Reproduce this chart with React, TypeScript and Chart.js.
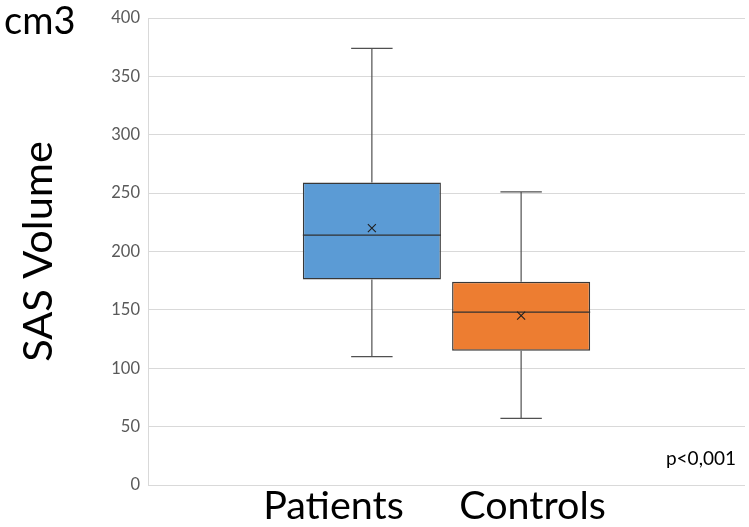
import React, { useEffect, useRef } from "react";
import { Chart, registerables } from "chart.js";

Chart.register(...registerables);

const groups = ["Patients", "Controls"];
const whiskerMin = [110, 57];
const q1 = [176, 115];
const median = [214, 148];
const q3 = [259, 174];
const whiskerMax = [374, 251];
const mean = [220, 145];
const fillColors = ["#5B9BD5", "#ED7D31"];
const yTicks = [0, 50, 100, 150, 200, 250, 300, 350, 400];

const FONT = "Lato, 'Open Sans', sans-serif";

const boxPlugin = {
  id: "boxExtras",
  afterDatasetsDraw(chart: any) {
    const ctx = chart.ctx;
    const y = chart.scales.y;
    const meta = chart.getDatasetMeta(0);
    ctx.save();
    groups.forEach((_, i) => {
      const bar = meta.data[i + 1];
      if (!bar) return;
      const cx = bar.x;
      const w = bar.width;
      const capHalf = w * 0.15;
      ctx.strokeStyle = "#505050";
      ctx.lineWidth = 1.2;
      ctx.beginPath();
      ctx.moveTo(cx, y.getPixelForValue(q3[i]));
      ctx.lineTo(cx, y.getPixelForValue(whiskerMax[i]));
      ctx.moveTo(cx - capHalf, y.getPixelForValue(whiskerMax[i]));
      ctx.lineTo(cx + capHalf, y.getPixelForValue(whiskerMax[i]));
      ctx.moveTo(cx, y.getPixelForValue(q1[i]));
      ctx.lineTo(cx, y.getPixelForValue(whiskerMin[i]));
      ctx.moveTo(cx - capHalf, y.getPixelForValue(whiskerMin[i]));
      ctx.lineTo(cx + capHalf, y.getPixelForValue(whiskerMin[i]));
      ctx.stroke();
      ctx.strokeStyle = "#303030";
      ctx.lineWidth = 1.3;
      ctx.beginPath();
      ctx.moveTo(cx - w / 2, y.getPixelForValue(median[i]));
      ctx.lineTo(cx + w / 2, y.getPixelForValue(median[i]));
      ctx.stroke();
      const my = y.getPixelForValue(mean[i]);
      const s = 4;
      ctx.strokeStyle = "#202020";
      ctx.lineWidth = 1.1;
      ctx.beginPath();
      ctx.moveTo(cx - s, my - s);
      ctx.lineTo(cx + s, my + s);
      ctx.moveTo(cx + s, my - s);
      ctx.lineTo(cx - s, my + s);
      ctx.stroke();
    });
    const area = chart.chartArea;
    ctx.fillStyle = "#000";
    ctx.textBaseline = "alphabetic";
    ctx.font = `38px ${FONT}`;
    ctx.textAlign = "left";
    ctx.fillText("cm3", 4, 34);
    ctx.font = `19px ${FONT}`;
    ctx.textAlign = "right";
    ctx.fillText("p<0,001", area.right - 9, y.getPixelForValue(17));
    ctx.restore();
  },
};

export default function App() {
  const ref = useRef<HTMLCanvasElement>(null);
  useEffect(() => {
    document.body.style.margin = "0";
    if (!ref.current) return;
    const chart = new Chart(ref.current, {
      type: "bar",
      data: {
        labels: ["", ...groups, ""],
        datasets: [
          {
            data: [null, ...groups.map((_, i) => [q1[i], q3[i]]), null] as any,
            backgroundColor: ["transparent", ...fillColors, "transparent"],
            borderColor: "#383838",
            borderWidth: 1.4,
            borderSkipped: false,
            categoryPercentage: 1,
            barPercentage: 0.925,
            xAxisID: "x",
          },
        ],
      },
      options: {
        animation: false,
        responsive: false,
        layout: { padding: { top: 18, right: 4, left: 0, bottom: 0 } },
        plugins: { legend: { display: false }, tooltip: { enabled: false } },
        scales: {
          x: { display: false },
          x2: {
            type: "category",
            labels: ["", ...groups],
            position: "bottom",
            grid: { display: false },
            border: { display: false },
            ticks: {
              labelOffset: -113,
              color: "#000",
              font: { family: FONT, size: 39.5, lineHeight: 1.0 },
              padding: -6,
              maxRotation: 0,
              autoSkip: false,
            },
            afterFit: (s: any) => {
              s.height = 42;
            },
          },
          y: {
            min: 0,
            max: 400,
            afterBuildTicks: (s: any) => {
              s.ticks = yTicks.map((v) => ({ value: v }));
            },
            grid: { color: "#d9d9d9", drawTicks: false },
            border: { display: true, color: "#d9d9d9" },
            ticks: {
              color: "#595959",
              font: { family: FONT, size: 16.5 },
              padding: 8,
            },
            title: {
              display: true,
              text: "SAS Volume",
              color: "#000",
              font: { family: FONT, size: 41.5 },
              padding: { top: 14, bottom: 0 },
            },
            afterFit: (s: any) => {
              s.width = 148;
            },
          },
        },
      },
      plugins: [boxPlugin],
    });
    return () => chart.destroy();
  }, []);
  return (
    <div style={{ width: 749, height: 527 }}>
      <canvas ref={ref} width={749} height={527} />
    </div>
  );
}
